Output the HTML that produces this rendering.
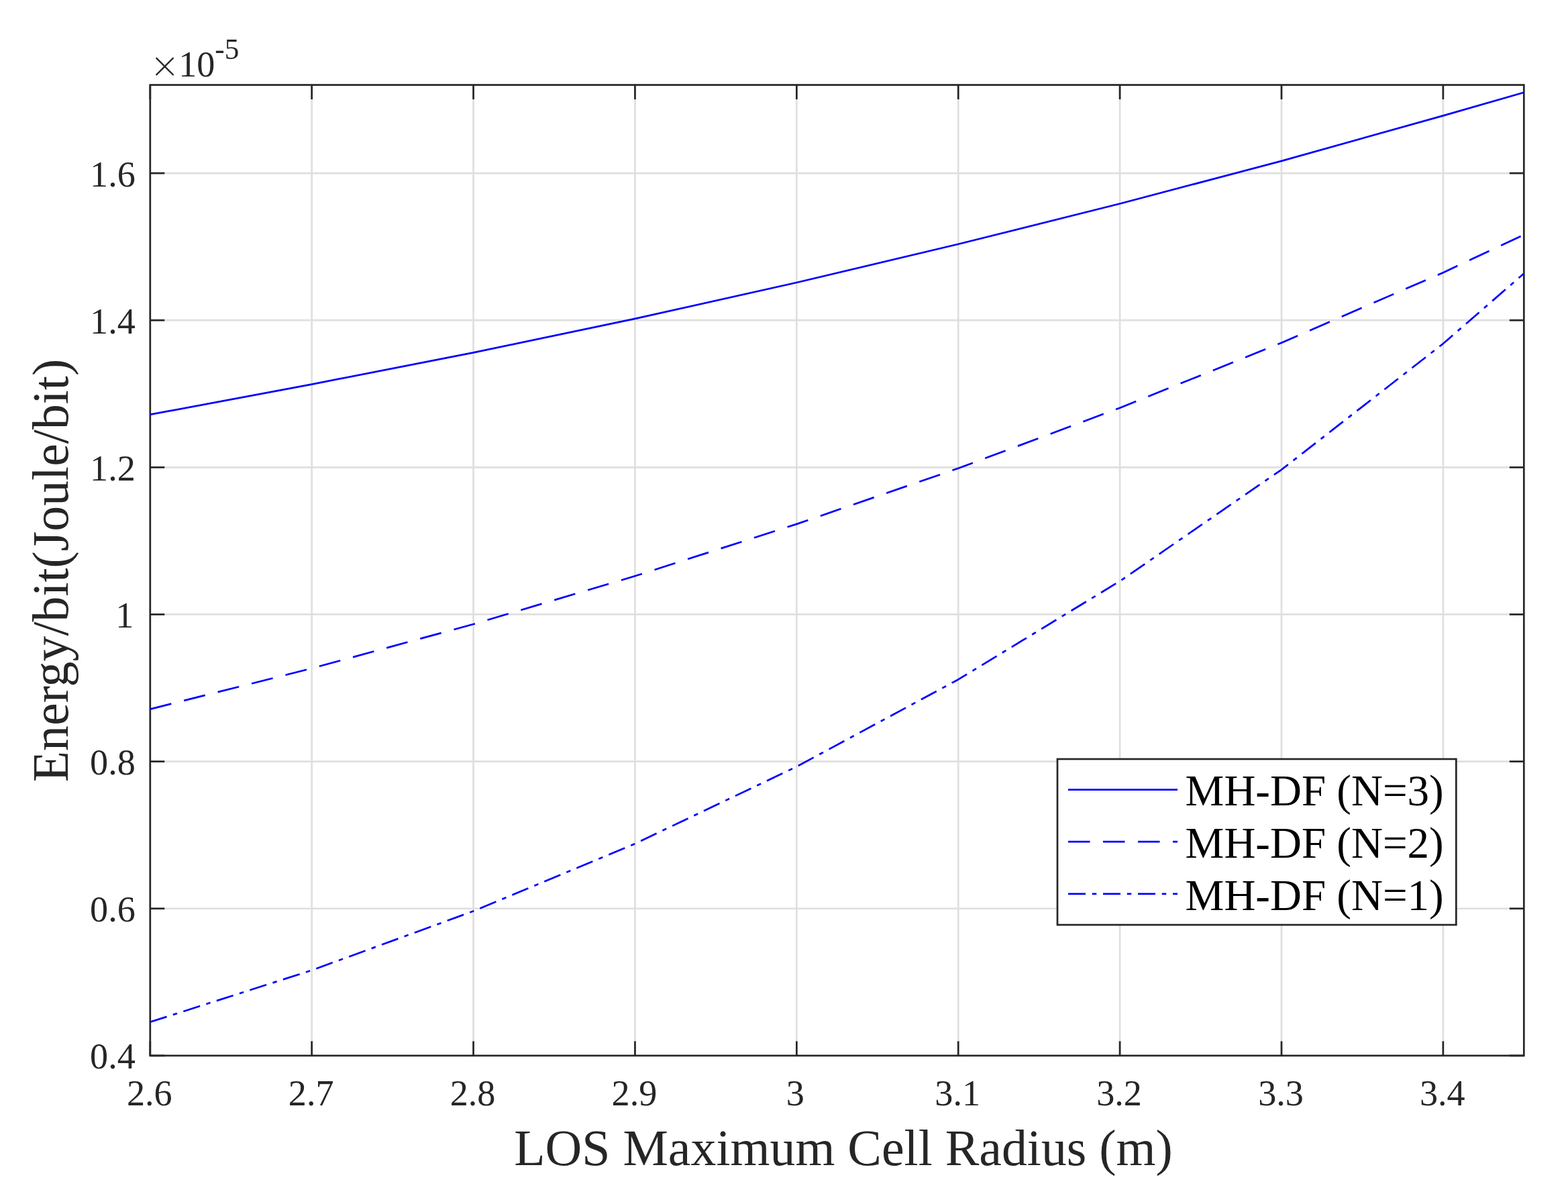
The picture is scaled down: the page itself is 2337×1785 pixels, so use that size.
<!DOCTYPE html>
<html lang="en"><head><meta charset="utf-8"><title>Energy per bit versus LOS maximum cell radius</title>
<style>html,body{margin:0;padding:0;background:#fff;}body{width:2337px;height:1785px;overflow:hidden;}svg{display:block;}text{font-family:'Liberation Serif', serif;}</style>
</head><body>
<svg width="2337" height="1785" viewBox="0 0 2337 1785">
<rect x="0" y="0" width="2337" height="1785" fill="#ffffff"/>
<g stroke="#dfdfdf" stroke-width="2.71" fill="none">
<line x1="464.68" y1="126.55" x2="464.68" y2="1572.90"/>
<line x1="705.56" y1="126.55" x2="705.56" y2="1572.90"/>
<line x1="946.45" y1="126.55" x2="946.45" y2="1572.90"/>
<line x1="1187.33" y1="126.55" x2="1187.33" y2="1572.90"/>
<line x1="1428.21" y1="126.55" x2="1428.21" y2="1572.90"/>
<line x1="1669.09" y1="126.55" x2="1669.09" y2="1572.90"/>
<line x1="1909.98" y1="126.55" x2="1909.98" y2="1572.90"/>
<line x1="2150.86" y1="126.55" x2="2150.86" y2="1572.90"/>
<line x1="223.80" y1="1353.76" x2="2271.30" y2="1353.76"/>
<line x1="223.80" y1="1134.61" x2="2271.30" y2="1134.61"/>
<line x1="223.80" y1="915.47" x2="2271.30" y2="915.47"/>
<line x1="223.80" y1="696.32" x2="2271.30" y2="696.32"/>
<line x1="223.80" y1="477.18" x2="2271.30" y2="477.18"/>
<line x1="223.80" y1="258.04" x2="2271.30" y2="258.04"/>
</g>
<g stroke="#262626" stroke-width="2.71" fill="none" stroke-linecap="square">
<rect x="223.80" y="126.55" width="2047.50" height="1446.35" stroke-linecap="butt"/>
</g>
<g stroke="#262626" stroke-width="2.71" fill="none">
<line x1="223.80" y1="1572.90" x2="223.80" y2="1551.40"/>
<line x1="223.80" y1="126.55" x2="223.80" y2="148.05"/>
<line x1="464.68" y1="1572.90" x2="464.68" y2="1551.40"/>
<line x1="464.68" y1="126.55" x2="464.68" y2="148.05"/>
<line x1="705.56" y1="1572.90" x2="705.56" y2="1551.40"/>
<line x1="705.56" y1="126.55" x2="705.56" y2="148.05"/>
<line x1="946.45" y1="1572.90" x2="946.45" y2="1551.40"/>
<line x1="946.45" y1="126.55" x2="946.45" y2="148.05"/>
<line x1="1187.33" y1="1572.90" x2="1187.33" y2="1551.40"/>
<line x1="1187.33" y1="126.55" x2="1187.33" y2="148.05"/>
<line x1="1428.21" y1="1572.90" x2="1428.21" y2="1551.40"/>
<line x1="1428.21" y1="126.55" x2="1428.21" y2="148.05"/>
<line x1="1669.09" y1="1572.90" x2="1669.09" y2="1551.40"/>
<line x1="1669.09" y1="126.55" x2="1669.09" y2="148.05"/>
<line x1="1909.98" y1="1572.90" x2="1909.98" y2="1551.40"/>
<line x1="1909.98" y1="126.55" x2="1909.98" y2="148.05"/>
<line x1="2150.86" y1="1572.90" x2="2150.86" y2="1551.40"/>
<line x1="2150.86" y1="126.55" x2="2150.86" y2="148.05"/>
<line x1="223.80" y1="1572.90" x2="245.30" y2="1572.90"/>
<line x1="2271.30" y1="1572.90" x2="2249.80" y2="1572.90"/>
<line x1="223.80" y1="1353.76" x2="245.30" y2="1353.76"/>
<line x1="2271.30" y1="1353.76" x2="2249.80" y2="1353.76"/>
<line x1="223.80" y1="1134.61" x2="245.30" y2="1134.61"/>
<line x1="2271.30" y1="1134.61" x2="2249.80" y2="1134.61"/>
<line x1="223.80" y1="915.47" x2="245.30" y2="915.47"/>
<line x1="2271.30" y1="915.47" x2="2249.80" y2="915.47"/>
<line x1="223.80" y1="696.32" x2="245.30" y2="696.32"/>
<line x1="2271.30" y1="696.32" x2="2249.80" y2="696.32"/>
<line x1="223.80" y1="477.18" x2="245.30" y2="477.18"/>
<line x1="2271.30" y1="477.18" x2="2249.80" y2="477.18"/>
<line x1="223.80" y1="258.04" x2="245.30" y2="258.04"/>
<line x1="2271.30" y1="258.04" x2="2249.80" y2="258.04"/>
</g>
<g stroke="#0000ff" stroke-width="2.71" fill="none" stroke-linejoin="round">
<polyline points="223.80,617.70 464.68,572.60 705.56,525.40 946.45,474.85 1187.33,420.95 1428.21,363.75 1669.09,303.50 1909.98,239.90 2150.86,172.40 2271.30,137.70"/>
<polyline points="223.80,1056.60 464.68,995.85 705.56,930.00 946.45,858.30 1187.33,780.90 1428.21,697.80 1669.09,607.75 1909.98,510.80 2150.86,406.15 2271.30,349.90" stroke-dasharray="32.50 19.50"/>
<polyline points="223.80,1522.80 464.68,1445.70 705.56,1357.60 946.45,1257.10 1187.33,1142.30 1428.21,1012.45 1669.09,865.90 1909.98,699.80 2150.86,512.10 2271.30,407.50" stroke-dasharray="26.00 9.75 6.50 9.75"/>
</g>
<g fill="#262626" font-size="54.17px">
<text x="222.80" y="1647.00" text-anchor="middle">2.6</text>
<text x="463.68" y="1647.00" text-anchor="middle">2.7</text>
<text x="704.56" y="1647.00" text-anchor="middle">2.8</text>
<text x="945.45" y="1647.00" text-anchor="middle">2.9</text>
<text x="1185.33" y="1647.00" text-anchor="middle">3</text>
<text x="1427.21" y="1647.00" text-anchor="middle">3.1</text>
<text x="1668.09" y="1647.00" text-anchor="middle">3.2</text>
<text x="1908.98" y="1647.00" text-anchor="middle">3.3</text>
<text x="2149.86" y="1647.00" text-anchor="middle">3.4</text>
<text x="201.80" y="1592.40" text-anchor="end">0.4</text>
<text x="201.80" y="1373.26" text-anchor="end">0.6</text>
<text x="201.80" y="1154.11" text-anchor="end">0.8</text>
<text x="199.40" y="934.97" text-anchor="end">1</text>
<text x="201.80" y="715.82" text-anchor="end">1.2</text>
<text x="201.80" y="496.68" text-anchor="end">1.4</text>
<text x="201.80" y="277.54" text-anchor="end">1.6</text>
<text x="225.19" y="122.80" font-size="71.90px" stroke="#ffffff" stroke-width="1.15">×</text>
<text x="266.20" y="114.00">10<tspan font-size="43.30px" dy="-26.00">-5</tspan></text>
</g>
<g fill="#262626" font-size="75.83px">
<text x="1257.00" y="1735.70" text-anchor="middle">LOS Maximum Cell Radius (m)</text>
<text transform="translate(101.20 850.00) rotate(-90)" text-anchor="middle">Energy/bit(Joule/bit)</text>
</g>
<rect x="1576.00" y="1131.00" width="594.30" height="247.00" fill="#ffffff" stroke="#262626" stroke-width="2.71"/>
<g stroke="#0000ff" stroke-width="2.71" fill="none">
<line x1="1592.00" y1="1176.60" x2="1755.00" y2="1176.60"/>
<line x1="1592.00" y1="1254.20" x2="1755.00" y2="1254.20" stroke-dasharray="32.50 19.50"/>
<line x1="1592.00" y1="1331.90" x2="1755.00" y2="1331.90" stroke-dasharray="26.00 9.75 6.50 9.75"/>
</g>
<g fill="#000000" font-size="65.00px">
<text x="1766.60" y="1200.30">MH-DF (N=3)</text>
<text x="1766.60" y="1277.90">MH-DF (N=2)</text>
<text x="1766.60" y="1355.60">MH-DF (N=1)</text>
</g>
</svg>
</body></html>
